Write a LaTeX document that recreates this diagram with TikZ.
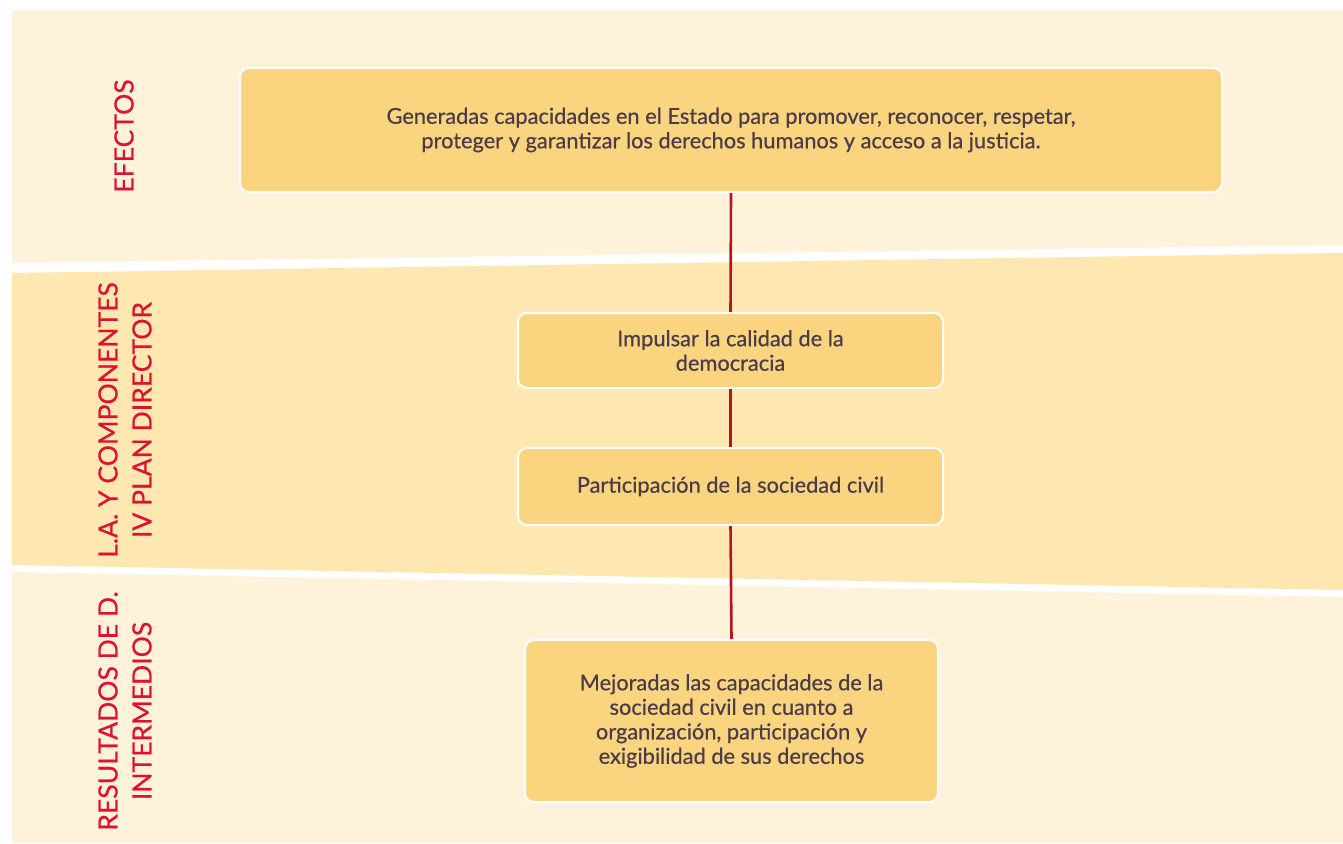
\documentclass[tikz,border=0pt]{standalone}
\usepackage{fontspec}
\setmainfont{Lato}
\newfontfamily\boxfont[FakeBold=0.5]{Lato}
\definecolor{bandlight}{HTML}{FEF3DA}
\definecolor{bandmid}{HTML}{FEE7B0}
\definecolor{boxfill}{HTML}{FAD47E}
\definecolor{labelred}{HTML}{DE1230}
\definecolor{linered}{HTML}{B8141F}
\definecolor{boxtext}{HTML}{4A3C48}
\tikzset{
  stepbox/.style={draw=white, line width=2pt, fill=boxfill, rounded corners=9pt, align=center,
    text=boxtext, font=\boxfont\fontsize{21.8}{24.5}\selectfont, inner sep=0pt},
  rowlabel/.style={rotate=90, align=center, text=labelred, font=\boxfont\fontsize{26.5}{34}\selectfont},
  conn/.style={draw=linered, line width=2.6pt}
}
\begin{document}
\begin{tikzpicture}[x=1pt,y=-1pt]
\useasboundingbox (0,0) rectangle (1343,843);
\fill[white] (0,0) rectangle (1343,843);
% bands
\fill[bandlight] (12,10) -- (1343,10) -- (1343,245) -- (12,263) -- cycle;
\fill[bandmid] (12,273) -- (1343,253) -- (1343,590) -- (12,565) -- cycle;
\fill[bandlight] (12,572) -- (1343,597) -- (1343,843) -- (12,843) -- cycle;
% boxes
\node[stepbox, minimum width=982pt, minimum height=124pt] (b1) at (731,130)
  {Generadas capacidades en el Estado para promover, reconocer, respetar,\\proteger y garantizar los derechos humanos y acceso a la justicia.};
\node[stepbox, minimum width=425pt, minimum height=75pt] (b2) at (730.5,350.5)
  {Impulsar la calidad de la\\democracia};
\node[stepbox, minimum width=425pt, minimum height=77pt] (b3) at (730.5,486.5)
  {Participación de la sociedad civil};
\node[stepbox, minimum width=413pt, minimum height=162pt] (b4) at (731.5,721)
  {Mejoradas las capacidades de la\\sociedad civil en cuanto a\\organización, participación y\\exigibilidad de sus derechos};
% connectors
\draw[conn] (b1.south) -- (b2.north);
\draw[conn] (b2.south) -- (b3.north);
\draw[conn] (b3.south) -- (b4.north);
% row labels
\node[rowlabel] (l1) at (124,136) {EFECTOS};
\node[rowlabel] (l2) at (125,420) {L.A. Y COMPONENTES\\IV PLAN DIRECTOR};
\node[rowlabel] (l3) at (125,711) {RESULTADOS DE D.\\INTERMEDIOS};
\end{tikzpicture}
\end{document}
